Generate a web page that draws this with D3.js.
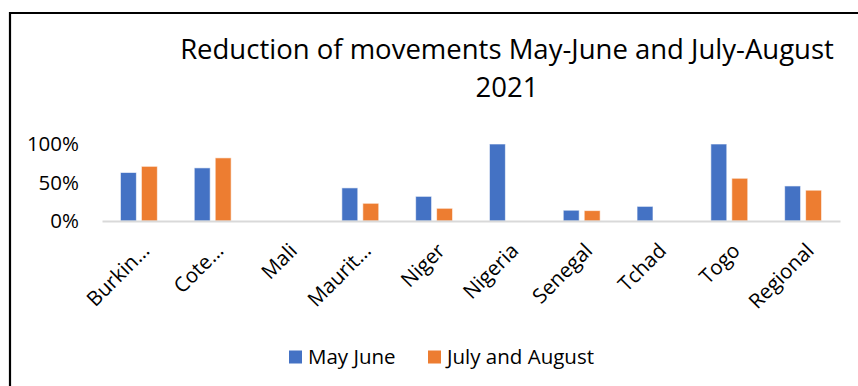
<!DOCTYPE html>
<html>
<head>
<meta charset="utf-8">
<script src="https://cdn.jsdelivr.net/npm/d3@7/dist/d3.min.js"></script>
<style>
  html, body { margin: 0; padding: 0; background: #fff; }
  svg { display: block; font-family: "Open Sans", "Noto Sans", sans-serif; }
</style>
</head>
<body>
<svg id="chart" width="858" height="386"></svg>
<script>
// Country / group labels along the x axis
const categories = ["Burkin…", "Cote…", "Mali", "Maurit…", "Niger", "Nigeria", "Senegal", "Tchad", "Togo", "Regional"];
// Share of movement reduction, per period (null = no value reported)
const mayJune = [0.63, 0.69, null, 0.43, 0.32, 1.00, 0.14, 0.19, 1.00, 0.455];
const julyAugust = [0.71, 0.82, null, 0.23, 0.165, null, 0.135, null, 0.555, 0.40];
const seriesNames = ["May June", "July and August"];
const yTicks = [0, 0.5, 1];
const titleLines = ["Reduction of movements May-June and July-August", "2021"];

const colors = ["#4472C4", "#ED7D31"];
const svg = d3.select("#chart");

// Chart frame (left and top edges are the only ones inside the view)
svg.append("path")
  .attr("d", "M10,400 V13 H870")
  .attr("fill", "none")
  .attr("stroke", "#000")
  .attr("stroke-width", 2.2);

// Title
const title = svg.append("text")
  .attr("text-anchor", "middle")
  .attr("font-size", 27.5)
  .attr("fill", "#000");
title.selectAll("tspan").data(titleLines).join("tspan")
  .attr("x", 507)
  .attr("y", (d, i) => 59 + i * 38)
  .text(d => d);

const plot = { left: 102, right: 840, top: 144, bottom: 221 };

const x0 = d3.scaleBand()
  .domain(categories)
  .range([plot.left, plot.right])
  .paddingInner(0.5)
  .paddingOuter(0.25);

const x1 = d3.scaleBand()
  .domain(seriesNames)
  .range([0, x0.bandwidth()])
  .paddingInner(0.24);

const y = d3.scaleLinear()
  .domain([0, 1])
  .range([plot.bottom, plot.top]);

// Y axis labels
const yAxis = d3.axisLeft(y)
  .tickValues(yTicks)
  .tickFormat(d3.format(".0%"))
  .tickSize(0)
  .tickPadding(0);
const yg = svg.append("g")
  .attr("transform", `translate(${79},0)`)
  .call(yAxis);
yg.select(".domain").remove();
yg.selectAll("text")
  .attr("font-size", 20.5)
  .attr("font-family", "'Open Sans', sans-serif")
  .attr("fill", "#000");

// Bars
const rows = categories.map((c, i) => ({ cat: c, vals: [mayJune[i], julyAugust[i]] }));
const groups = svg.append("g").selectAll("g").data(rows).join("g")
  .attr("transform", d => `translate(${x0(d.cat)},0)`);
groups.selectAll("rect")
  .data(d => d.vals.map((v, k) => ({ v, k })).filter(e => e.v != null))
  .join("rect")
  .attr("x", e => x1(seriesNames[e.k]))
  .attr("width", x1.bandwidth())
  .attr("y", e => y(e.v))
  .attr("height", e => y(0) - y(e.v))
  .attr("fill", e => colors[e.k])
  .attr("stroke", "#fff")
  .attr("stroke-opacity", 0.6)
  .attr("stroke-width", 1);

// X axis
const xAxis = d3.axisBottom(x0).tickSize(0).tickPadding(0);
const xg = svg.append("g")
  .attr("transform", `translate(0,${plot.bottom})`)
  .call(xAxis);
xg.select(".domain")
  .attr("stroke", "#d9d9d9")
  .attr("stroke-width", 2);
xg.selectAll(".tick text")
  .attr("font-size", 20.5)
  .attr("font-family", "'Open Sans', sans-serif")
  .attr("fill", "#000")
  .attr("text-anchor", "end")
  .attr("dy", null)
  .attr("y", 0)
  .attr("transform", "translate(12,31) rotate(-45)");

// Legend
const legend = svg.append("g").attr("transform", "translate(289,350.5)");
const items = legend.selectAll("g").data(seriesNames).join("g")
  .attr("transform", (d, i) => `translate(${i * 139},0)`);
items.append("rect")
  .attr("width", 13).attr("height", 13)
  .attr("fill", (d, i) => colors[i]);
items.append("text")
  .attr("x", 19).attr("y", 13.5)
  .attr("font-size", 20.5)
  .attr("fill", "#000")
  .text(d => d);
</script>
</body>
</html>
